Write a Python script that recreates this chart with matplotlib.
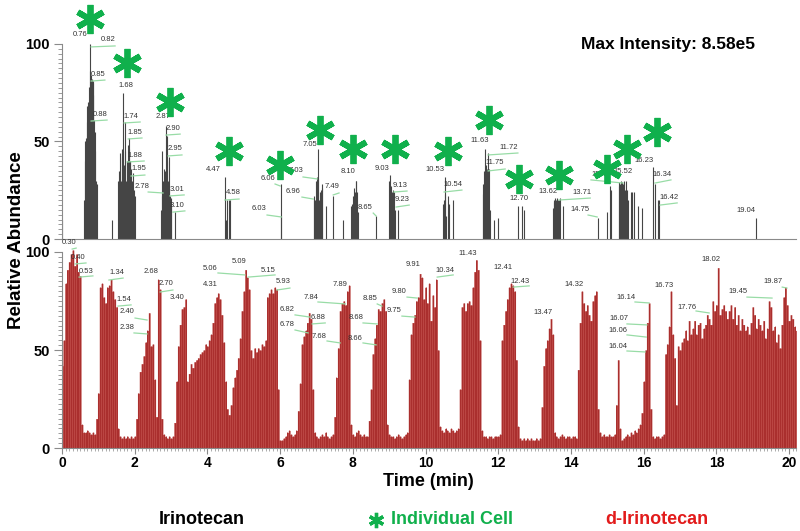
import matplotlib.pyplot as plt
import numpy as np
from matplotlib.ticker import MultipleLocator, FixedLocator

NARROW = ["Liberation Sans Narrow", "Liberation Sans", "DejaVu Sans"]
PLAIN = ["Liberation Sans", "DejaVu Sans"]
plt.rcParams["font.family"] = NARROW

# Irinotecan (top trace): stick times (min) and relative abundance
irino_time = [
    0.01,
    0.60, 0.62, 0.64, 0.66, 0.68, 0.70, 0.72, 0.74, 0.76, 0.78, 0.80, 0.82,
    0.84, 0.85, 0.86, 0.88, 0.90, 0.92, 0.94, 0.96,
    1.38,
    1.54, 1.56, 1.58, 1.60, 1.62, 1.64, 1.66, 1.68, 1.70, 1.72, 1.74, 1.76,
    1.78, 1.80, 1.82, 1.84, 1.85, 1.87, 1.88, 1.90, 1.92, 1.95, 1.97, 2.00,
    2.72, 2.74, 2.76, 2.78, 2.80, 2.82, 2.84, 2.86, 2.87, 2.89, 2.90, 2.92,
    2.94, 2.95, 2.97, 3.00, 3.01, 3.10,
    4.47, 4.50, 4.55, 4.58, 4.62,
    6.01, 6.03,
    6.92, 6.94, 6.96, 6.99, 7.01, 7.03, 7.05, 7.08, 7.10, 7.12, 7.14, 7.16,
    7.26, 7.46, 7.74,
    7.96, 7.98, 8.00, 8.02, 8.04, 8.06, 8.08, 8.10, 8.12, 8.15,
    8.63,
    9.00, 9.02, 9.04, 9.07, 9.10, 9.13, 9.16, 9.23,
    10.48, 10.50, 10.53, 10.54, 10.56, 10.62, 10.65, 10.75,
    11.57, 11.59, 11.61, 11.63, 11.65, 11.67, 11.69, 11.72, 11.75, 11.78,
    11.88, 12.00,
    12.55, 12.65, 12.71,
    13.50, 13.52, 13.54, 13.56, 13.58, 13.60, 13.62, 13.64, 13.66, 13.68,
    13.71, 13.78,
    14.73,
    14.98, 15.07, 15.11, 15.31, 15.33, 15.36, 15.38, 15.40, 15.42, 15.45,
    15.48, 15.50, 15.52, 15.55, 15.58, 15.64, 15.68, 15.72, 15.85, 15.96,
    16.25, 16.30, 16.40, 16.42,
    19.10,
]
irino_abund = [
    10,
    20, 40, 50, 52, 60, 68, 70, 78, 100, 86, 84, 82,
    80, 81, 74, 61, 55, 45, 30, 28,
    10,
    30, 35, 20, 44, 30, 42, 46, 75, 38, 45, 60, 30,
    40, 22, 48, 46, 52, 40, 40, 36, 30, 34, 25, 22,
    15, 22, 45, 30, 36, 35, 33, 30, 58, 40, 53, 30,
    25, 42, 22, 18, 21, 14,
    32, 10, 20, 20, 20,
    28, 12,
    20, 22, 20, 30, 32, 31, 46, 20, 24, 25, 28, 26,
    17, 22, 10,
    17, 18, 22, 20, 26, 24, 30, 30, 24, 14,
    12,
    30, 33, 27, 24, 25, 24, 15, 15,
    18, 20, 32, 23, 12, 22, 18, 20,
    23, 28, 35, 46, 30, 38, 36, 44, 36, 15,
    10, 11,
    17, 17, 15,
    16, 19, 20, 21, 19, 20, 21, 20, 18, 20,
    21, 17,
    11,
    14, 27, 25, 27, 29, 28, 30, 29, 28, 30,
    25, 22, 30, 25, 20, 24, 24, 24, 17, 16,
    37, 28, 20, 20,
    11,
]

# d-Irinotecan (bottom trace): relative abundance every 0.05 min from 0
d_irino_step = 0.05
d_irino_abund = [
    42, 55, 84, 91, 95, 99, 101, 93, 99, 90, 88, 12, 8, 8, 9, 8, 7, 8, 7, 15,
    28, 82, 84, 77, 74, 82, 83, 86, 80, 76, 72, 10, 6, 5, 6, 5, 6, 5, 6, 5,
    6, 15, 28, 39, 43, 47, 54, 60, 69, 52, 53, 35, 16, 86, 81, 15, 7, 6, 5, 6,
    5, 6, 13, 34, 52, 63, 71, 72, 76, 34, 38, 43, 41, 44, 45, 46, 48, 49, 50, 53,
    52, 55, 58, 64, 74, 77, 79, 76, 68, 54, 34, 20, 17, 22, 31, 36, 40, 46, 56, 70,
    80, 91, 87, 81, 50, 46, 51, 49, 51, 50, 53, 52, 55, 77, 79, 81, 79, 82, 81, 30,
    4, 4, 5, 6, 8, 9, 7, 6, 7, 9, 19, 33, 53, 57, 60, 64, 69, 66, 30, 8,
    6, 5, 6, 7, 6, 8, 6, 5, 6, 7, 16, 36, 51, 70, 74, 75, 73, 80, 83, 12,
    7, 6, 8, 9, 7, 6, 7, 6, 6, 14, 30, 48, 56, 63, 71, 70, 74, 76, 70, 12,
    7, 6, 6, 5, 6, 7, 6, 5, 6, 7, 8, 35, 58, 64, 68, 75, 77, 89, 87, 76,
    82, 74, 84, 65, 78, 72, 86, 50, 11, 9, 8, 10, 9, 8, 10, 9, 8, 9, 10, 30,
    72, 74, 70, 74, 75, 73, 82, 90, 96, 91, 55, 9, 6, 6, 5, 6, 6, 5, 6, 6,
    6, 7, 55, 63, 70, 76, 82, 84, 83, 80, 45, 11, 5, 4, 5, 4, 5, 4, 5, 4,
    4, 5, 4, 5, 21, 42, 51, 55, 61, 66, 58, 8, 6, 5, 6, 7, 6, 5, 6, 6,
    5, 6, 6, 5, 40, 64, 80, 74, 70, 73, 68, 65, 75, 78, 80, 20, 8, 6, 7, 6,
    6, 7, 6, 6, 7, 22, 45, 10, 4, 5, 6, 7, 6, 8, 7, 9, 8, 10, 12, 18,
    34, 50, 64, 74, 20, 6, 5, 6, 6, 5, 6, 7, 48, 53, 62, 80, 58, 46, 22, 52,
    50, 54, 56, 60, 55, 65, 58, 61, 65, 58, 63, 64, 56, 61, 63, 68, 66, 63, 75, 70,
    73, 92, 68, 71, 73, 70, 66, 70, 73, 66, 72, 63, 68, 60, 66, 63, 60, 62, 58, 64,
    72, 68, 61, 66, 63, 60, 65, 56, 61, 75, 72, 60, 62, 54, 58, 51, 63, 77, 82, 73,
    65, 68, 66, 62, 60,
]

# individual cells (green asterisks)
cell_time = [0.77, 1.79, 2.97, 4.59, 6.00, 7.10, 8.01, 9.16, 10.62, 11.75,
             12.57, 13.67, 14.99, 15.54, 16.37]
cell_level = [113, 90, 70, 45, 38, 56, 46, 46, 45, 61, 31, 33, 36, 46, 55]

# peak labels: text, label centre (t, y), leader line (t0, y0, t1, y1) or None
top_labels = [
    ("0.76", 0.50, 105.1, None),
    ("0.82", 1.27, 102.1, (0.80, 98.5, 1.46, 99.0)),
    ("0.85", 0.99, 84.6, (0.80, 81.0, 1.18, 81.5)),
    ("0.88", 1.05, 64.1, (0.80, 60.5, 1.24, 61.0)),
    ("1.68", 1.76, 78.5, None),
    ("1.74", 1.90, 62.6, (1.71, 59.5, 2.15, 60.0)),
    ("1.85", 2.01, 54.4, (1.82, 51.3, 2.20, 51.8)),
    ("1.88", 2.01, 42.6, (1.79, 39.5, 2.26, 40.0)),
    ("1.95", 2.12, 35.9, (1.90, 32.3, 2.28, 32.8)),
    ("2.78", 2.20, 26.7, (2.37, 24.1, 2.78, 23.6)),
    ("2.87", 2.78, 62.6, None),
    ("2.90", 3.05, 56.9, (2.86, 53.3, 3.25, 53.8)),
    ("2.95", 3.11, 46.2, (2.92, 42.6, 3.30, 43.1)),
    ("3.01", 3.16, 25.6, (2.97, 22.1, 3.36, 22.6)),
    ("3.10", 3.16, 17.4, (3.05, 13.8, 3.38, 14.4)),
    ("4.47", 4.15, 35.4, None),
    ("4.58", 4.70, 23.6, (4.48, 20.0, 4.87, 20.5)),
    ("6.06", 5.67, 30.8, (5.86, 28.2, 6.00, 27.2)),
    ("6.03", 5.42, 15.4, (5.64, 12.3, 6.03, 11.3)),
    ("7.03", 6.44, 34.9, (6.63, 31.8, 7.02, 30.8)),
    ("6.96", 6.35, 24.6, (6.60, 21.5, 6.91, 20.5)),
    ("7.05", 6.82, 48.7, None),
    ("7.49", 7.43, 26.7, (7.46, 22.6, 7.62, 23.6)),
    ("8.10", 7.87, 34.4, None),
    ("8.65", 8.34, 16.4, (8.56, 13.3, 8.64, 11.8)),
    ("9.03", 8.80, 36.4, None),
    ("9.13", 9.30, 27.2, (9.13, 24.1, 9.49, 24.6)),
    ("9.23", 9.35, 20.5, (9.19, 16.4, 9.55, 17.4)),
    ("10.53", 10.26, 35.4, None),
    ("10.54", 10.76, 27.7, (10.51, 24.1, 11.00, 25.1)),
    ("11.63", 11.50, 50.3, None),
    ("11.72", 12.30, 46.7, (11.72, 43.1, 12.54, 44.1)),
    ("11.75", 11.91, 39.0, (11.72, 34.9, 12.19, 35.9)),
    ("12.70", 12.57, 21.0, None),
    ("13.62", 13.37, 24.6, None),
    ("13.71", 14.31, 24.1, (13.67, 20.0, 14.53, 21.0)),
    ("14.75", 14.25, 14.9, (14.47, 12.3, 14.72, 11.3)),
    ("15.40", 14.83, 33.3, (14.55, 30.3, 15.43, 28.7)),
    ("15.52", 15.43, 34.4, None),
    ("16.23", 16.01, 40.0, None),
    ("16.34", 16.51, 33.3, (16.31, 28.7, 16.75, 30.3)),
    ("16.42", 16.70, 21.5, (16.45, 17.4, 16.92, 18.5)),
    ("19.04", 18.82, 14.4, None),
]
bottom_labels = [
    ("0.30", 0.19, 104.6, (0.28, 101.5, 0.39, 102.0)),
    ("0.40", 0.44, 97.4, (0.36, 93.9, 0.66, 94.4)),
    ("0.53", 0.66, 90.3, (0.47, 87.2, 0.85, 87.8)),
    ("1.34", 1.51, 89.3, (1.29, 85.7, 1.68, 86.7)),
    ("1.54", 1.71, 76.0, (1.54, 72.4, 1.90, 73.0)),
    ("2.40", 1.79, 69.4, (2.01, 66.3, 2.34, 65.3)),
    ("2.38", 1.79, 61.7, (1.98, 58.7, 2.34, 58.2)),
    ("2.68", 2.45, 89.8, None),
    ("2.70", 2.86, 83.7, (2.70, 79.6, 3.05, 80.6)),
    ("3.40", 3.16, 77.0, None),
    ("4.31", 4.07, 83.2, None),
    ("5.06", 4.07, 91.8, (4.29, 89.3, 5.03, 88.3)),
    ("5.09", 4.87, 95.4, None),
    ("5.15", 5.67, 90.8, (5.12, 87.2, 5.86, 88.3)),
    ("5.93", 6.08, 84.7, (5.91, 80.6, 6.27, 81.6)),
    ("6.82", 6.19, 70.9, (6.41, 67.9, 6.82, 66.8)),
    ("6.78", 6.19, 62.8, (6.41, 60.2, 6.77, 58.7)),
    ("6.88", 7.04, 66.8, (6.88, 63.3, 7.24, 63.8)),
    ("7.68", 7.07, 57.1, (7.29, 54.6, 7.65, 53.6)),
    ("7.84", 6.85, 77.0, (7.04, 74.5, 7.79, 73.5)),
    ("7.89", 7.65, 83.2, None),
    ("8.85", 8.47, 76.5, (8.67, 73.5, 8.80, 72.4)),
    ("8.68", 8.09, 66.8, (8.28, 63.8, 8.67, 63.3)),
    ("8.66", 8.06, 56.1, (8.28, 53.6, 8.64, 52.6)),
    ("9.80", 9.27, 79.6, (9.49, 77.0, 9.77, 76.5)),
    ("9.75", 9.13, 70.4, (9.35, 67.3, 9.71, 66.8)),
    ("9.91", 9.66, 93.4, None),
    ("10.34", 10.54, 90.8, (10.32, 87.2, 10.76, 88.3)),
    ("11.43", 11.17, 99.0, None),
    ("12.41", 12.13, 92.3, None),
    ("12.43", 12.60, 85.2, (12.41, 82.1, 12.85, 82.7)),
    ("13.47", 13.23, 68.9, None),
    ("14.32", 14.09, 83.2, None),
    ("16.14", 15.52, 77.0, (15.76, 74.5, 16.15, 74.0)),
    ("16.07", 15.32, 66.3, (15.54, 63.3, 16.09, 62.8)),
    ("16.06", 15.30, 60.2, (15.54, 57.7, 16.07, 56.6)),
    ("16.04", 15.30, 52.0, (15.54, 49.5, 16.04, 49.0)),
    ("16.73", 16.56, 82.7, None),
    ("17.76", 17.19, 71.9, (17.44, 69.9, 17.80, 68.9)),
    ("18.02", 17.85, 96.4, None),
    ("19.45", 18.60, 80.1, (18.84, 77.0, 19.53, 76.5)),
    ("19.87", 19.56, 85.2, (19.81, 82.1, 19.94, 81.6)),
]

GREEN = "#10b04c"
LEADER = "#98dca6"
AXIS_GRAY = "#8a8a8a"


def put_labels(ax, labels):
    for text, tx, ty, seg in labels:
        if seg is not None:
            ax.plot([seg[0], seg[2]], [seg[1], seg[3]], color=LEADER, lw=0.9,
                    zorder=4, clip_on=False)
        ax.text(tx, ty, text, fontsize=5.5, color="#333333", ha="center",
                va="center", family=PLAIN, zorder=5, clip_on=False)


def style_axis(ax, ymax):
    ax.set_xlim(0, 20.2)
    ax.set_ylim(0, ymax)
    for side in ("top", "right"):
        ax.spines[side].set_visible(False)
    ax.spines["left"].set_bounds(0, 100)
    for side in ("left", "bottom"):
        ax.spines[side].set_color(AXIS_GRAY)
        ax.spines[side].set_linewidth(0.8)
    ax.set_yticks([0, 50, 100])
    ax.set_yticklabels(["0", "50", "100"], fontweight="bold", fontsize=10.5)
    ax.yaxis.set_minor_locator(FixedLocator(np.arange(0, 100.1, 2.5)))
    ax.tick_params(axis="y", which="major", length=6, width=0.8,
                   color=AXIS_GRAY, pad=3)
    ax.tick_params(axis="y", which="minor", length=3, width=0.6,
                   color=AXIS_GRAY)
    ax.patch.set_alpha(0)


fig = plt.figure(figsize=(8, 5.31), dpi=100)
ax_top = fig.add_axes([0.0775, 0.5499, 0.918, 0.4407])
ax_bot = fig.add_axes([0.0775, 0.1563, 0.918, 0.3898])

# top panel: Irinotecan sticks
style_axis(ax_top, 120)
ax_top.vlines(irino_time, 0, irino_abund, color="#454545", lw=0.8)
ax_top.set_xticks([])
ax_top.plot(cell_time, cell_level, linestyle="none", marker=(6, 2, 0),
            markersize=21, markeredgewidth=4.2, color=GREEN, clip_on=False,
            zorder=6)
put_labels(ax_top, top_labels)
ax_top.text(0.825, 0.83, "Max Intensity: 8.58e5", transform=ax_top.transAxes,
            ha="center", va="center", fontsize=12.5, fontweight="bold",
            family=PLAIN)

# bottom panel: d-Irinotecan trace
style_axis(ax_bot, 105.6)
d_time = np.arange(len(d_irino_abund)) * d_irino_step
ax_bot.fill_between(d_time, d_irino_abund, step="mid", color="#bb4643",
                    lw=0)
ax_bot.vlines(d_time, 0, d_irino_abund, color="#a32626", lw=0.5)
ax_bot.set_xticks(range(0, 21, 2))
ax_bot.set_xticklabels([str(v) for v in range(0, 21, 2)], fontweight="bold",
                       fontsize=10)
ax_bot.xaxis.set_minor_locator(MultipleLocator(0.1))
ax_bot.tick_params(axis="x", which="major", length=4, width=0.8,
                   color=AXIS_GRAY, pad=1.5)
ax_bot.tick_params(axis="x", which="minor", length=2.5, width=0.5,
                   color=AXIS_GRAY)
put_labels(ax_bot, bottom_labels)

fig.text(428 / 800, 1 - 482 / 531, "Time (min)", ha="center", va="center",
         fontsize=13, fontweight="bold")
fig.text(17 / 800, 1 - 240 / 531, "Relative Abundance", ha="center",
         va="center", rotation=90, fontsize=13.5, fontweight="bold")

# legend row
fig.text(202 / 800, 1 - 520 / 531, "Irinotecan", ha="center", va="center",
         fontsize=13, fontweight="bold", color="black")
fig.text(452 / 800, 1 - 520 / 531, "Individual Cell", ha="center",
         va="center", fontsize=13, fontweight="bold", color=GREEN)
fig.lines.append(plt.Line2D([376 / 800], [1 - 520 / 531],
                            transform=fig.transFigure, marker=(6, 2, 0),
                            markersize=11, markeredgewidth=2.4, color=GREEN,
                            linestyle="none"))
fig.text(657 / 800, 1 - 520 / 531, "d-Irinotecan", ha="center", va="center",
         fontsize=13, fontweight="bold", color="#e21b1b")

fig.savefig("out.png", dpi=100)
